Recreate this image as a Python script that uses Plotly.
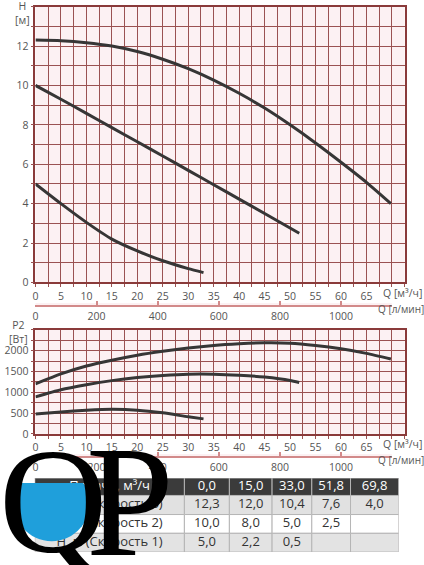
import math
import plotly.graph_objects as go

W, H = 424, 565

# ---- curve data: Q [m3/h] -> H [m] ----
q_s3 = [0, 5, 10, 15, 20, 25, 30, 35, 40, 45, 50, 55, 60, 65, 69.8]
h_s3 = [12.3, 12.27, 12.17, 12.0, 11.72, 11.33, 10.85, 10.27, 9.6, 8.85, 8.0, 7.08, 6.1, 5.08, 4.0]
q_s2 = [0, 5, 10, 15, 20, 25, 30, 35, 40, 45, 51.8]
h_s2 = [10.0, 9.3, 8.58, 7.86, 7.14, 6.42, 5.69, 4.96, 4.23, 3.5, 2.5]
q_s1 = [0, 5, 10, 15, 20, 25, 30, 33]
h_s1 = [5.0, 4.0, 3.05, 2.2, 1.6, 1.1, 0.7, 0.5]

# ---- power P2 [W] ----
qp_s3 = [0, 5, 10, 15, 20, 25, 30, 35, 40, 45, 50, 55, 60, 65, 69.8]
p_s3 = [1200, 1440, 1630, 1770, 1890, 1985, 2065, 2125, 2165, 2190, 2180, 2125, 2045, 1935, 1800]
qp_s2 = [0, 5, 10, 15, 20, 25, 30, 35, 40, 45, 50, 51.8]
p_s2 = [890, 1060, 1180, 1280, 1355, 1405, 1435, 1435, 1410, 1365, 1285, 1235]
qp_s1 = [0, 5, 10, 15, 20, 25, 30, 33]
p_s1 = [480, 528, 567, 590, 570, 505, 410, 360]

# ---- table ----
tbl_head = "Подача, м³/ч"
tbl_rows = ["Н, м (Скорость 3)", "Н, м (Скорость 2)", "Н, м (Скорость 1)"]
tbl_flow = [0.0, 15.0, 33.0, 51.8, 69.8]
tbl_h3 = [12.3, 12.0, 10.4, 7.6, 4.0]
tbl_h2 = [10.0, 8.0, 5.0, 2.5, None]
tbl_h1 = [5.0, 2.2, 0.5, None, None]

# ---- axis ticks ----
q_step, q_max, q_lab_max = 2.5, 72.5, 65
h_step, h_max, h_lab_max = 1, 14, 12
p_step, p_max, p_lab_max = 250, 2500, 2000
lpm_ticks = [0, 200, 400, 600, 800, 1000]
LPM = 1000 / 60
q_lpm_end = 70


def fx(x):
    return x / W


def fy(y):
    return 1 - y / H


def fmt(v):
    return "" if v is None else f"{v:.1f}".replace(".", ",")


def grid_ticks(step, vmax, lab_every, lab_max):
    vals = [i * step for i in range(int(round(vmax / step)) + 1)]
    txt = []
    for v in vals:
        ok = abs(v / lab_every - round(v / lab_every)) < 1e-9 and v <= lab_max
        txt.append(f"{v:g}" if ok else "")
    return vals, txt


GRID = "#9a5252"
FRAME = "#8a3a3a"
LINE = "#363636"
TXT = "#555555"
PINK = "#d28a8a"
FONT = "Open Sans"
tickfont = dict(family=FONT, size=10.5, color=TXT)

X0, X1 = 32.7, 404.5
qx, qt = grid_ticks(q_step, q_max, 5, q_lab_max)
hy, ht = grid_ticks(h_step, h_max, 2, h_lab_max)
py_, pt = grid_ticks(p_step, p_max, 500, p_lab_max)

fig = go.Figure()
line = dict(color=LINE, width=3, shape="spline", smoothing=0.6)
for q, h in [(q_s3, h_s3), (q_s2, h_s2), (q_s1, h_s1)]:
    fig.add_trace(go.Scatter(x=q, y=h, mode="lines", line=line, xaxis="x", yaxis="y",
                             showlegend=False, hoverinfo="skip"))
for q, p in [(qp_s3, p_s3), (qp_s2, p_s2), (qp_s1, p_s1)]:
    fig.add_trace(go.Scatter(x=q, y=p, mode="lines", line=line, xaxis="x2", yaxis="y2",
                             showlegend=False, hoverinfo="skip"))
# invisible anchors so the l/min axes get drawn
for k in (3, 4):
    fig.add_trace(go.Scatter(x=[0, q_lpm_end * LPM], y=[0, 0], mode="markers",
                             marker=dict(opacity=0), xaxis=f"x{k}", yaxis=f"y{k}",
                             showlegend=False, hoverinfo="skip"))

# table (cells as shapes on their own pixel axes, text as a text trace)
col_x = [32, 182.7, 228, 271, 311, 350, 398.5]
row_y = [484, 501.7, 521, 540, 559]
row_fill = ["#3b3b3b", "#e1e1e1", "#ffffff", "#e3e3e3"]
rows = [[tbl_head] + [fmt(v) for v in tbl_flow]]
for name, vals in zip(tbl_rows, [tbl_h3, tbl_h2, tbl_h1]):
    rows.append([name] + [fmt(v) for v in vals])
shapes = []
for r, cells in enumerate(rows):
    for c in range(len(cells)):
        shapes.append(dict(type="rect", xref="x5", yref="y5", layer="below",
                           x0=col_x[c], x1=col_x[c + 1], y0=row_y[r], y1=row_y[r + 1],
                           fillcolor=row_fill[r], line=dict(color="#b5b5b5", width=1)))
    fig.add_trace(go.Scatter(
        x=[(col_x[c] + col_x[c + 1]) / 2 for c in range(len(cells))],
        y=[(row_y[r] + row_y[r + 1]) / 2] * len(cells),
        text=cells, mode="text", xaxis="x5", yaxis="y5", showlegend=False, hoverinfo="skip",
        textfont=dict(family=FONT, size=13, color="white" if r == 0 else "#333333")))

# blue water inside the logo "Q"
cx, cy, rr, top = 49, 510, 38, 489
pts = []
a0 = math.asin((cy - top) / rr)
n = 40
for i in range(n + 1):
    a = -(math.pi + a0 - (math.pi + 2 * a0) * i / n)
    pts.append((cx + rr * math.cos(a), cy - rr * math.sin(a)))
path = "M " + " L ".join(f"{fx(x):.4f},{fy(y):.4f}" for x, y in pts) + " Z"
shapes.append(dict(type="path", xref="paper", yref="paper", layer="above", path=path,
                   fillcolor="#1f9fdb", line=dict(width=0)))

ax_common = dict(showgrid=True, gridcolor=GRID, gridwidth=1, showline=True, linecolor=FRAME,
                 linewidth=1.5, mirror=True, zeroline=False, ticks="outside", ticklen=3,
                 tickcolor=GRID, tickfont=tickfont, tickmode="array", fixedrange=True)

fig.update_layout(
    width=W, height=H,
    margin=dict(l=0, r=0, t=0, b=0),
    paper_bgcolor="white", plot_bgcolor="#fcf1f3",
    font=dict(family=FONT, color=TXT),
    xaxis=dict(ax_common, domain=[fx(X0), fx(X1)], range=[0, q_max], anchor="y",
               tickvals=qx, ticktext=qt),
    yaxis=dict(ax_common, domain=[fy(286), fy(6.7)], range=[0, h_max], anchor="x",
               tickvals=hy, ticktext=ht),
    xaxis2=dict(ax_common, domain=[fx(X0), fx(X1)], range=[0, q_max], anchor="y2",
                tickvals=qx, ticktext=qt),
    yaxis2=dict(ax_common, domain=[fy(439.3), fy(334)], range=[0, p_max], anchor="x2",
                tickvals=py_, ticktext=pt),
    xaxis5=dict(domain=[fx(col_x[0]), fx(col_x[-1])], range=[col_x[0], col_x[-1]],
                anchor="y5", visible=False, fixedrange=True),
    yaxis5=dict(domain=[fy(row_y[-1]), fy(row_y[0])], range=[row_y[-1], row_y[0]],
                anchor="x5", visible=False, fixedrange=True),
    shapes=shapes,
)

# Q axes in l/min under each chart
x_end = X0 + q_lpm_end * (X1 - X0) / q_max
for k, ly in [(3, 309), (4, 462)]:
    fig.update_layout({
        f"xaxis{k}": dict(domain=[fx(X0), fx(x_end)], range=[0, q_lpm_end * LPM],
                          anchor=f"y{k}", showline=True, linecolor=PINK, linewidth=2,
                          showgrid=False, zeroline=False, ticks="inside", ticklen=4,
                          tickcolor=PINK, tickwidth=1.5, tickmode="array",
                          tickvals=lpm_ticks + [q_lpm_end * LPM],
                          ticktext=[str(v) for v in lpm_ticks] + [""],
                          tickfont=tickfont, fixedrange=True),
        f"yaxis{k}": dict(domain=[fy(ly), fy(ly) + 0.004], range=[0, 1], anchor=f"x{k}",
                          visible=False, fixedrange=True),
    })

ann = [
    dict(text="Q [м³/ч]", x=fx(402), y=fy(297), size=10.5),
    dict(text="Q [л/мин]", x=fx(401), y=fy(313), size=10),
    dict(text="Q [м³/ч]", x=fx(402), y=fy(450), size=10.5),
    dict(text="Q [л/мин]", x=fx(401), y=fy(466), size=10),
    dict(text="H<br>[м]", x=fx(20), y=fy(13), size=10.5),
    dict(text="P2<br>[Вт]", x=fx(16), y=fy(336), size=10.5),
]
annotations = [dict(text=a["text"], x=a["x"], y=a["y"], xref="paper", yref="paper",
                    xanchor="center", yanchor="middle", showarrow=False,
                    font=dict(family=FONT, size=a["size"], color=TXT)) for a in ann]
# watermark logo
logo = dict(family="Liberation Serif", size=150, color="black")
annotations.append(dict(text="Q", xref="paper", yref="paper", x=fx(-6), y=fy(421),
                        xanchor="left", yanchor="top", showarrow=False, font=logo))
annotations.append(dict(text="P", xref="paper", yref="paper", x=fx(82), y=fy(417),
                        xanchor="left", yanchor="top", showarrow=False,
                        font=dict(logo, size=158)))
fig.update_layout(annotations=annotations)

fig.write_html("out.html", config={"displayModeBar": False},
               post_script="document.body.style.margin = '0';")
